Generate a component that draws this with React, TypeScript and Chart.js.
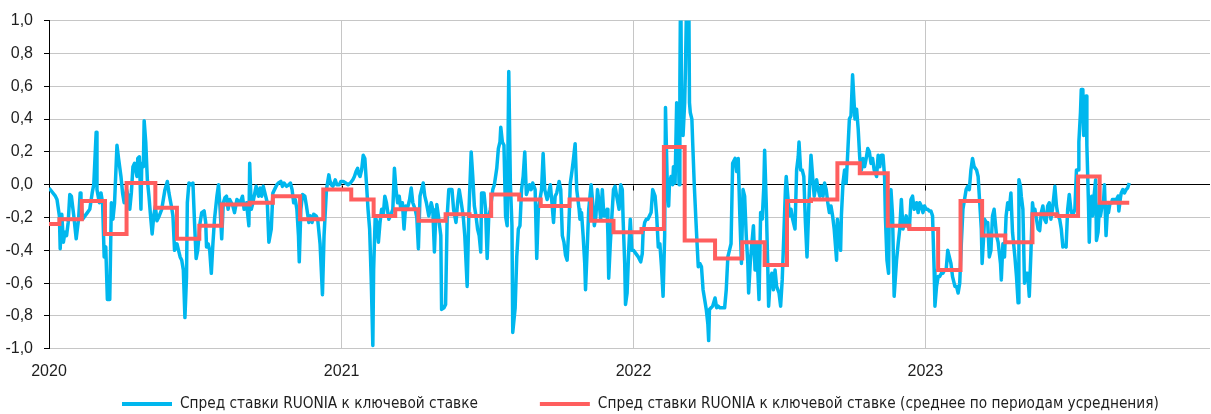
import React, { useEffect, useRef } from "react";
import { Chart, registerables } from "chart.js";

Chart.register(...registerables);

// ---- Axis definition (days since 2020-01-01) ----
const yearTickDays = [0, 366, 731, 1096];
const yearTickLabels = ["2020", "2021", "2022", "2023"];
const axisEndDay = 1452;
const yMin = -1;
const yMax = 1;
const yStep = 0.2;

const seriesLabels = [
  "Спред ставки RUONIA к ключевой ставке",
  "Спред ставки RUONIA к ключевой ставке (среднее по периодам усреднения)",
];
const seriesColors = ["#00B7EE", "#FF5E5E"];

// ---- Daily spread (blue) ----
const days2020 = [
  0, 8, 10, 13, 14, 16, 18, 20, 22, 24,
  26, 28, 31, 34, 37, 39, 40, 42, 45, 48,
  51, 54, 56, 59, 60, 63, 65, 67, 69, 71,
  73, 76, 78, 80, 82, 85, 87, 90, 92, 94,
  97, 99, 101, 103, 105, 107, 110, 111, 113, 115,
  116, 118, 119, 121, 123, 125, 127, 129, 131, 133,
  135, 137, 141, 145, 148, 150, 153, 155, 157, 160,
  162, 164, 166, 168, 170, 172, 173, 175, 178, 180,
  182, 184, 186, 189, 191, 194, 196, 197, 199, 201,
  203, 205, 207, 210, 212, 214, 216, 218, 220, 222,
  224, 226, 230, 232, 235, 239, 242, 244, 247, 250,
  251, 253, 255, 259, 262, 264, 266, 268, 271, 273,
  275, 278, 280, 282, 285, 287, 290, 292, 294, 297,
  300, 302, 304, 306, 308, 310, 312, 313, 315, 317,
  320, 322, 325, 327, 329, 331, 334, 336, 339, 342,
  344, 347, 350, 351, 353, 355, 358, 360, 363, 365,
];
const values2020 = [
  -0.02, -0.07, -0.09, -0.19, -0.39, -0.18, -0.35, -0.29, -0.31, -0.23,
  -0.06, -0.07, -0.19, -0.33, -0.21, -0.05, -0.11, -0.21, -0.19, -0.17,
  -0.15, -0.05, 0.0, 0.32, -0.03, -0.11, -0.05, -0.11, -0.44, -0.38,
  -0.7, -0.7, -0.11, -0.21, -0.11, 0.24, 0.16, 0.05, -0.05, -0.11,
  -0.03, -0.07, -0.15, -0.05, 0.11, 0.13, 0.05, 0.16, 0.17, -0.15,
  0.13, 0.11, 0.39, 0.26, 0.03, -0.07, -0.19, -0.3, -0.19, -0.13,
  -0.22, -0.2, -0.15, -0.03, 0.02, -0.05, -0.13, -0.19, -0.4, -0.36,
  -0.4, -0.44, -0.46, -0.52, -0.81, -0.56, -0.11, 0.01, 0.0, 0.01,
  -0.23, -0.45, -0.4, -0.23, -0.17, -0.16, -0.23, -0.38, -0.36, -0.4,
  -0.54, -0.36, -0.21, -0.07, 0.0, -0.15, -0.33, -0.11, -0.08, -0.07,
  -0.15, -0.09, -0.13, -0.17, -0.09, -0.11, -0.07, -0.15, -0.11, -0.25,
  0.13, -0.15, -0.11, -0.01, -0.07, -0.02, -0.07, -0.01, -0.07, -0.11,
  -0.35, -0.27, -0.05, -0.03, 0.0, 0.01, 0.02, -0.01, 0.01, -0.01,
  0.0, 0.01, -0.03, -0.11, -0.09, -0.15, -0.31, -0.47, -0.15, -0.06,
  -0.07, -0.13, -0.23, -0.19, -0.23, -0.18, -0.19, -0.21, -0.36, -0.67,
  -0.31, -0.03, 0.06, 0.03, 0.0, -0.01, 0.03, 0.0, 0.0, 0.02,
];

const days2021 = [
  368, 371, 374, 377, 380, 382, 384, 386, 387, 389,
  391, 393, 395, 397, 399, 401, 403, 405, 406, 408,
  410, 412, 414, 416, 418, 420, 422, 425, 427, 430,
  432, 434, 436, 438, 440, 442, 444, 446, 448, 451,
  453, 455, 458, 460, 462, 464, 466, 468, 470, 472,
  475, 478, 480, 482, 484, 485, 487, 490, 491, 494,
  496, 498, 500, 502, 504, 506, 509, 511, 513, 515,
  518, 520, 523, 525, 528, 530, 532, 534, 536, 538,
  540, 541, 544, 546, 548, 550, 552, 555, 557, 560,
  562, 564, 565, 567, 569, 571, 573, 575, 577, 579,
  580, 583, 585, 587, 589, 591, 593, 595, 597, 599,
  601, 603, 605, 608, 610, 612, 614, 616, 618, 620,
  623, 625, 627, 629, 631, 633, 635, 638, 640, 642,
  644, 646, 648, 650, 652, 654, 656, 658, 660, 663,
  664, 666, 668, 670, 671, 673, 675, 678, 680, 682,
  684, 686, 688, 690, 692, 694, 695, 698, 699, 700,
  702, 704, 706, 708, 710, 713, 715, 717, 718, 720,
  721, 723, 725, 727, 729,
];
const values2021 = [
  0.02, 0.01, 0.0, 0.01, 0.03, 0.05, 0.08, 0.1, 0.07, 0.05,
  0.09, 0.18, 0.16, 0.01, -0.15, -0.27, -0.58, -0.98, -0.52, -0.19,
  -0.23, -0.35, -0.23, -0.15, -0.19, -0.07, -0.11, -0.21, -0.19, -0.15,
  0.1, -0.03, -0.11, -0.07, -0.15, -0.11, -0.27, -0.13, -0.15, -0.09,
  -0.02, -0.11, -0.15, -0.2, -0.39, -0.07, -0.03, 0.01, -0.07, -0.11,
  -0.19, -0.11, -0.15, -0.41, -0.15, -0.12, -0.19, -0.31, -0.76, -0.75,
  -0.73, -0.19, -0.03, -0.03, -0.03, -0.15, -0.23, -0.11, -0.03, -0.09,
  -0.19, -0.31, -0.62, -0.19, 0.2, 0.05, -0.13, -0.19, -0.27, -0.31,
  -0.41, -0.05, -0.05, -0.15, -0.45, -0.19, -0.15, -0.03, 0.0, 0.1,
  0.22, 0.26, 0.35, 0.26, 0.24, -0.19, -0.25, 0.69, 0.01, -0.25,
  -0.9, -0.75, -0.44, -0.27, -0.25, -0.03, 0.05, 0.2, -0.06, -0.03,
  0.0, -0.03, 0.01, -0.03, -0.45, -0.15, -0.09, -0.03, 0.19, -0.03,
  -0.09, -0.05, 0.0, -0.11, -0.23, -0.07, -0.05, 0.02, -0.03, -0.31,
  -0.35, -0.43, -0.46, -0.27, 0.01, 0.08, 0.16, 0.25, -0.03, -0.15,
  -0.21, -0.17, -0.31, -0.48, -0.64, -0.4, -0.15, 0.0, -0.11, -0.25,
  -0.19, -0.03, -0.11, -0.21, -0.03, -0.19, -0.19, -0.15, -0.31, -0.57,
  -0.36, -0.19, -0.03, -0.01, -0.07, -0.15, 0.0, -0.03, -0.21, -0.48,
  -0.73, -0.66, -0.4, -0.21, -0.4,
];

const days2022 = [
  731, 734, 737, 740, 742, 743, 745, 747, 749, 751,
  753, 755, 758, 760, 762, 764, 766, 768, 770, 771,
  773, 775, 776, 778, 780, 781, 783, 785, 786, 788,
  789, 790, 791, 793, 795, 796, 798, 800, 801, 802,
  804, 805, 807, 809, 810, 812, 814, 816, 818, 820,
  822, 824, 825, 826, 828, 830, 833, 835, 837, 839,
  841, 843, 845, 847, 849, 851, 853, 855, 858, 860,
  862, 864, 866, 868, 870, 872, 874, 875, 877, 879,
  881, 883, 885, 888, 890, 892, 894, 895, 897, 899,
  900, 902, 904, 906, 908, 910, 913, 915, 917, 919,
  921, 922, 924, 926, 928, 930, 933, 935, 937, 938,
  940, 942, 944, 946, 948, 951, 953, 955, 957, 960,
  962, 964, 966, 968, 970, 972, 974, 976, 978, 980,
  982, 985, 986, 988, 990, 991, 993, 995, 997, 999,
  1001, 1003, 1005, 1008, 1010, 1012, 1014, 1016, 1018, 1020,
  1022, 1024, 1026, 1028, 1030, 1032, 1035, 1037, 1039, 1041,
  1043, 1045, 1046, 1048, 1050, 1051, 1053, 1055, 1057, 1060,
  1062, 1064, 1066, 1068, 1070, 1072, 1074, 1076, 1078, 1080,
  1082, 1085, 1087, 1089, 1091, 1093, 1095,
];
const values2022 = [
  -0.4, -0.42, -0.44, -0.47, -0.42, -0.29, -0.23, -0.21, -0.21, -0.19,
  -0.17, -0.03, -0.07, -0.19, -0.38, -0.36, -0.5, -0.68, -0.31, 0.47,
  0.05, -0.13, 0.01, 0.05, 0.0, 0.11, 0.01, 0.5, 0.44, 0.0,
  0.61, 1.3, 0.58, 0.3, 0.5, 0.71, 1.3, 1.3, 0.5, 0.44,
  0.4, 0.26, 0.0, -0.21, -0.31, -0.5, -0.48, -0.5, -0.64, -0.7,
  -0.76, -0.85, -0.95, -0.76, -0.75, -0.74, -0.69, -0.75, -0.74, -0.75,
  -0.75, -0.75, -0.75, -0.64, -0.44, -0.4, -0.36, 0.13, 0.16, 0.08,
  0.16, -0.19, -0.48, -0.03, -0.07, -0.31, -0.48, -0.66, -0.48, -0.36,
  -0.25, -0.52, -0.36, -0.7, -0.17, -0.21, -0.01, 0.21, -0.11, -0.52,
  -0.74, -0.58, -0.54, -0.64, -0.52, -0.62, -0.66, -0.74, -0.58, -0.31,
  -0.03, 0.05, -0.07, -0.19, -0.15, -0.21, -0.27, 0.09, 0.17, 0.26,
  0.09, 0.09, 0.05, -0.23, -0.44, -0.03, 0.18, 0.05, -0.07, 0.03,
  -0.03, -0.07, -0.01, -0.07, 0.01, -0.03, -0.11, -0.17, -0.13, -0.19,
  -0.27, -0.46, -0.21, -0.31, -0.4, -0.19, 0.01, 0.09, 0.01, 0.2,
  0.4, 0.42, 0.67, 0.4, 0.46, 0.34, 0.16, 0.09, 0.16, 0.11,
  0.16, 0.22, 0.2, 0.13, 0.16, 0.09, 0.05, 0.18, 0.11, 0.18,
  0.18, 0.05, -0.19, -0.46, -0.54, -0.11, -0.03, -0.19, -0.68, -0.46,
  -0.36, -0.27, -0.09, -0.27, -0.23, -0.19, -0.25, -0.27, -0.09, -0.07,
  -0.15, -0.11, -0.17, -0.11, -0.13, -0.17, -0.13,
];

const days2023 = [
  1097, 1099, 1101, 1103, 1105, 1107, 1108, 1110, 1112, 1114,
  1116, 1118, 1120, 1122, 1124, 1126, 1128, 1130, 1133, 1135,
  1137, 1139, 1141, 1143, 1145, 1147, 1149, 1151, 1153, 1155,
  1157, 1160, 1162, 1164, 1166, 1167, 1169, 1170, 1172, 1174,
  1176, 1178, 1180, 1182, 1185, 1187, 1190, 1191, 1193, 1195,
  1197, 1199, 1201, 1203, 1205, 1208, 1210, 1212, 1213, 1215,
  1216, 1218, 1220, 1222, 1224, 1226, 1228, 1230, 1231, 1233,
  1235, 1237, 1239, 1241, 1243, 1245, 1247, 1249, 1251, 1253,
  1255, 1258, 1260, 1262, 1264, 1266, 1268, 1270, 1272, 1274,
  1276, 1278, 1280, 1283, 1285, 1287, 1288, 1290, 1291, 1293,
  1294, 1295, 1297, 1298, 1300, 1301, 1302, 1304, 1305, 1307,
  1309, 1310, 1312, 1314, 1315, 1317, 1319, 1320, 1322, 1324,
  1325, 1327, 1329, 1330, 1333, 1335, 1337, 1338, 1340, 1341,
  1343, 1345, 1347, 1349, 1351,
];
const values2023 = [
  -0.15, -0.15, -0.16, -0.16, -0.19, -0.52, -0.74, -0.62, -0.56, -0.56,
  -0.54, -0.54, -0.52, -0.52, -0.4, -0.44, -0.48, -0.56, -0.62, -0.62,
  -0.66, -0.6, -0.36, -0.15, -0.09, -0.03, -0.01, -0.03, 0.09, 0.16,
  0.11, 0.09, 0.05, -0.11, -0.27, -0.48, -0.31, -0.21, -0.23, -0.23,
  -0.44, -0.4, -0.19, -0.15, -0.31, -0.35, -0.48, -0.58, -0.36, -0.44,
  -0.19, -0.11, -0.15, -0.05, -0.29, -0.44, -0.56, -0.72, 0.03, -0.01,
  -0.07, -0.15, -0.6, -0.54, -0.54, -0.68, -0.42, -0.11, -0.15, -0.15,
  -0.21, -0.27, -0.28, -0.17, -0.13, -0.21, -0.23, -0.13, -0.11, -0.21,
  -0.15, -0.01, -0.13, -0.19, -0.21, -0.27, -0.38, -0.37, -0.38, -0.15,
  -0.06, -0.15, -0.19, -0.15, 0.09, 0.09, 0.26, 0.44, 0.58, 0.58,
  0.3, 0.4, 0.54, 0.24, -0.11, -0.35, -0.15, -0.07, -0.19, -0.07,
  0.03, -0.34, -0.29, -0.11, -0.19, -0.13, -0.09, 0.0, -0.31, -0.13,
  -0.17, -0.11, -0.11, -0.09, -0.09, -0.09, -0.07, -0.16, -0.08, -0.05,
  -0.03, -0.05, -0.03, -0.02, 0.01,
];

// ---- Average over averaging periods (red step line): period start day and value ----
const avgDays = [
  0, 13, 41, 70, 97, 133, 160, 188, 216,
  251, 280, 314, 343, 378, 406, 433, 462,
  496, 526, 553, 588, 615, 651, 678, 706,
  741, 769, 795, 833, 867, 895, 923,
  953, 986, 1014, 1049, 1076, 1112, 1140, 1167,
  1196, 1230, 1260, 1287, 1314, 1351,
];
const avgValues = [
  -0.24, -0.21, -0.1, -0.3, 0.01, -0.14, -0.33, -0.25, -0.12,
  -0.11, -0.07, -0.21, -0.03, -0.09, -0.19, -0.15, -0.22,
  -0.18, -0.19, -0.06, -0.09, -0.13, -0.09, -0.22, -0.29,
  -0.27, 0.23, -0.34, -0.45, -0.35, -0.49, -0.1,
  -0.09, 0.13, 0.07, -0.25, -0.27, -0.52, -0.1, -0.31,
  -0.35, -0.18, -0.19, 0.05, -0.11, -0.11,
];

const spreadDays = [...days2020, ...days2021, ...days2022, ...days2023];
const spreadValues = [...values2020, ...values2021, ...values2022, ...values2023];

function toPoints(xs: number[], ys: number[]) {
  const n = Math.min(xs.length, ys.length);
  const out: { x: number; y: number }[] = [];
  for (let i = 0; i < n; i++) out.push({ x: xs[i], y: ys[i] });
  return out;
}

const TICK_FONT_FAMILY = "'Liberation Sans', Arial, sans-serif";
const LEGEND_FONT = "15.25px 'DejaVu Sans Condensed', 'Liberation Sans Narrow', 'Liberation Sans', sans-serif";
const TEXT_COLOR = "#1e1e1e";
const GRID_COLOR = "#c6c6c6";

const yearMarksPlugin = {
  id: "yearMarks",
  beforeDatasetsDraw(chart: any) {
    const { ctx, scales } = chart;
    const y0 = Math.round(scales.y.getPixelForValue(0)) + 0.5;
    ctx.save();
    ctx.strokeStyle = "#000";
    ctx.lineWidth = 1;
    ctx.beginPath();
    yearTickDays.slice(1).forEach((d) => {
      const px = Math.round(scales.x.getPixelForValue(d)) + 0.5;
      ctx.moveTo(px, y0);
      ctx.lineTo(px, y0 + 5);
    });
    ctx.stroke();
    ctx.restore();
  },
};

const legendPlugin = {
  id: "bottomLegend",
  afterDraw(chart: any) {
    const { ctx } = chart;
    const y = chart.height - 10;
    const lineW = 50;
    const gapText = 8;
    const gapItem = 62;
    ctx.save();
    ctx.font = LEGEND_FONT;
    const widths = seriesLabels.map((t) => ctx.measureText(t).width);
    const total =
      widths.reduce((a, w) => a + lineW + gapText + w, 0) + gapItem * (widths.length - 1);
    let x = Math.round(640 - total / 2);
    seriesLabels.forEach((t, i) => {
      ctx.strokeStyle = seriesColors[i];
      ctx.lineWidth = 4;
      ctx.lineCap = "butt";
      ctx.beginPath();
      ctx.moveTo(x, y);
      ctx.lineTo(x + lineW, y);
      ctx.stroke();
      ctx.fillStyle = TEXT_COLOR;
      ctx.textBaseline = "middle";
      ctx.textAlign = "left";
      ctx.fillText(t, x + lineW + gapText, y);
      x += lineW + gapText + widths[i] + gapItem;
    });
    ctx.restore();
  },
};

export default function App() {
  const canvasRef = useRef<HTMLCanvasElement | null>(null);

  useEffect(() => {
    const canvas = canvasRef.current;
    if (!canvas) return;
    const chart = new Chart(canvas, {
      type: "line",
      data: {
        datasets: [
          {
            label: seriesLabels[0],
            data: toPoints(spreadDays, spreadValues),
            borderColor: seriesColors[0],
            backgroundColor: seriesColors[0],
            borderWidth: 3.5,
            pointRadius: 0,
            tension: 0,
            borderJoinStyle: "round",
            clip: 0,
            order: 2,
          },
          {
            label: seriesLabels[1],
            data: toPoints(avgDays, avgValues),
            borderColor: seriesColors[1],
            backgroundColor: seriesColors[1],
            borderWidth: 4,
            pointRadius: 0,
            stepped: true,
            clip: 0,
            order: 1,
          },
        ],
      },
      options: {
        responsive: false,
        animation: false,
        events: [],
        parsing: false,
        layout: { padding: { top: 19, right: 1, left: 0, bottom: 20 } },
        plugins: {
          legend: { display: false },
          tooltip: { enabled: false },
          title: { display: false },
        },
        scales: {
          x: {
            type: "linear",
            min: 0,
            max: axisEndDay,
            afterBuildTicks: (scale: any) => {
              scale.ticks = yearTickDays.map((v) => ({ value: v }));
            },
            ticks: {
              autoSkip: false,
              maxRotation: 0,
              padding: 13,
              color: TEXT_COLOR,
              font: { family: TICK_FONT_FAMILY, size: 16 },
              callback: (_v: any, i: number) => yearTickLabels[i],
            },
            grid: { color: GRID_COLOR, lineWidth: 1, drawTicks: false },
            border: { display: false },
          },
          y: {
            min: yMin,
            max: yMax,
            afterFit: (scale: any) => {
              scale.width = 49;
            },
            ticks: {
              stepSize: yStep,
              padding: 11,
              color: TEXT_COLOR,
              font: { family: TICK_FONT_FAMILY, size: 16 },
              callback: (v: any) => {
                const n = Number(v);
                const s = Math.abs(n) < 1e-9 ? "0.0" : n.toFixed(1);
                return s.replace(".", ",");
              },
            },
            grid: {
              color: (c: any) => (c.tick && Math.abs(c.tick.value) < 1e-9 ? "#000" : GRID_COLOR),
              tickColor: "#000",
              tickLength: 5,
              lineWidth: 1,
              drawTicks: true,
            },
            border: { color: "#000", width: 1 },
          },
        },
      },
      plugins: [yearMarksPlugin, legendPlugin],
    } as any);
    return () => chart.destroy();
  }, []);

  return (
    <div style={{ position: "absolute", left: 0, top: 0, width: 1211, height: 414, background: "#fff" }}>
      <canvas ref={canvasRef} width={1211} height={414} style={{ display: "block" }} />
    </div>
  );
}
